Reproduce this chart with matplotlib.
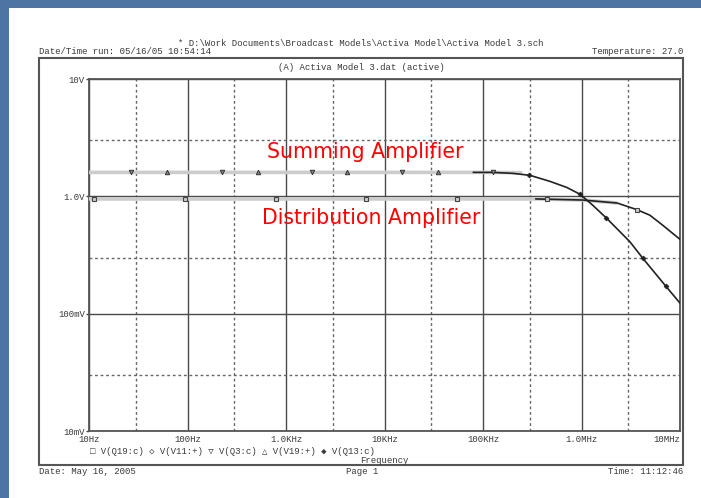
import matplotlib
matplotlib.use("Agg")
import matplotlib.pyplot as plt
from matplotlib.patches import Rectangle
from matplotlib.ticker import LogLocator, NullFormatter, FixedLocator
import numpy as np

# ---------------- data ----------------
# Summing amplifier: flat (grey) portion
sum_flat_f = [10, 100, 1e3, 1e4, 1e5, 2.5e5]
sum_flat_v = [1.60, 1.60, 1.60, 1.60, 1.60, 1.59]
# Summing amplifier: roll-off (black trace)
sum_roll_f = [80e3, 125e3, 200e3, 300e3, 480e3, 710e3, 0.97e6, 1.3e6, 1.8e6, 3.1e6, 4.2e6, 7.2e6, 10e6]
sum_roll_v = [1.60, 1.60, 1.57, 1.51, 1.34, 1.19, 1.04, 0.84, 0.65, 0.41, 0.296, 0.171, 0.123]
# Distribution amplifier: flat (grey) portion
dist_flat_f = [10, 100, 1e3, 1e4, 1e5, 3.45e5, 1.03e6, 2.3e6]
dist_flat_v = [0.95, 0.95, 0.95, 0.95, 0.95, 0.95, 0.93, 0.877]
# Distribution amplifier: roll-off (black trace)
dist_roll_f = [345e3, 1.03e6, 2.3e6, 3.65e6, 4.95e6, 6.7e6, 10e6]
dist_roll_v = [0.95, 0.93, 0.877, 0.77, 0.69, 0.566, 0.43]

# marker points
q19_mk_f = [11.2, 94, 790, 6.5e3, 54e3, 447e3, 3.65e6]
q19_mk_v = [0.95, 0.95, 0.95, 0.95, 0.95, 0.95, 0.77]
q3_mk_f = [26.7, 224, 1.84e3, 15e3, 126e3]
q3_mk_v = [1.60, 1.60, 1.60, 1.60, 1.60]
v19_mk_f = [62, 520, 4.16e3, 34.9e3]
v19_mk_v = [1.60, 1.60, 1.60, 1.60]
q13_mk_f = [293e3, 0.97e6, 1.77e6, 4.2e6, 7.2e6]
q13_mk_v = [1.51, 1.04, 0.653, 0.296, 0.171]

series_names = ["V(Q19:c)", "V(V11:+)", "V(Q3:c)", "V(V19:+)", "V(Q13:c)"]
series_symbols = ["\u25a1", "\u25c7", "\u25bd", "\u25b3", "\u25c6"]

xtick_vals = [10, 100, 1e3, 1e4, 1e5, 1e6, 1e7]
xtick_labels = ["10Hz", "100Hz", "1.0KHz", "10KHz", "100KHz", "1.0MHz", "10MHz"]
ytick_vals = [0.01, 0.1, 1, 10]
ytick_labels = ["10mV", "100mV", "1.0V", "10V"]

# ---------------- figure ----------------
W, H = 701, 498
fig = plt.figure(figsize=(W / 100, H / 100), dpi=100, facecolor="#4e74a3")

def fx(x):
    return x / W

def fy(y):
    return 1 - y / H

mono = ["Liberation Mono", "DejaVu Sans Mono"]
fs = 6.5
tc = "#3a3a3a"

fig.patches.append(Rectangle((fx(9), 0), 1 - fx(9), fy(8), transform=fig.transFigure,
                             facecolor="white", edgecolor="none", zorder=-2))
fig.patches.append(Rectangle((fx(39), fy(465)), fx(683) - fx(39), fy(58) - fy(465),
                             transform=fig.transFigure, fill=False, edgecolor="#555555",
                             linewidth=1.5, zorder=2))

ax = fig.add_axes([fx(89), fy(431), fx(680) - fx(89), fy(79) - fy(431)])
ax.set_facecolor("white")
ax.set_xscale("log")
ax.set_yscale("log")
ax.set_xlim(10, 1e7)
ax.set_ylim(0.01, 10)

ax.xaxis.set_major_locator(FixedLocator(xtick_vals))
ax.set_xticklabels(xtick_labels, family=mono, fontsize=fs, color=tc)
ax.yaxis.set_major_locator(FixedLocator(ytick_vals))
ax.set_yticklabels(ytick_labels, family=mono, fontsize=fs, color=tc)
ax.xaxis.set_minor_locator(LogLocator(base=10, subs=[3.0], numticks=20))
ax.yaxis.set_minor_locator(LogLocator(base=10, subs=[3.0], numticks=20))
ax.xaxis.set_minor_formatter(NullFormatter())
ax.yaxis.set_minor_formatter(NullFormatter())
ax.tick_params(axis="x", which="major", length=0, pad=3)
ax.tick_params(axis="y", which="major", length=2.5, width=1, color="#444444", pad=0.5)
ax.tick_params(which="minor", length=0)
xl = ax.get_xticklabels()
xl[-1].set_ha("right")

ax.grid(True, which="major", color="#4a4a4a", linewidth=1.0)
ax.grid(True, which="minor", color="#666666", linewidth=1.0, linestyle=(0, (2, 2)))
ax.set_axisbelow(True)
for s in ax.spines.values():
    s.set_color("#555555")
    s.set_linewidth(1.3)

grey = "#cccccc"
ax.plot(sum_flat_f, sum_flat_v, color=grey, lw=2.6, solid_capstyle="butt", zorder=3)
ax.plot(dist_flat_f, dist_flat_v, color=grey, lw=2.6, solid_capstyle="butt", zorder=3)
ax.plot(sum_roll_f, sum_roll_v, color="#222222", lw=1.2, zorder=4)
ax.plot(dist_roll_f, dist_roll_v, color="#222222", lw=1.2, zorder=4)

ax.plot(q19_mk_f, q19_mk_v, ls="none", marker="s", ms=3.0, mfc="#cccccc", mec="#444444", mew=0.8, zorder=5)
ax.plot(q3_mk_f, q3_mk_v, ls="none", marker="v", ms=3.2, mfc="#888888", mec="#333333", mew=0.7, zorder=5)
ax.plot(v19_mk_f, v19_mk_v, ls="none", marker="^", ms=3.2, mfc="#888888", mec="#333333", mew=0.7, zorder=5)
ax.plot(q13_mk_f, q13_mk_v, ls="none", marker="D", ms=2.5, mfc="#222222", mec="#222222", mew=0.5, zorder=5)

# ---------------- texts ----------------
fig.text(fx(360.5), fy(43), "* D:\\Work Documents\\Broadcast Models\\Activa Model\\Activa Model 3.sch",
         ha="center", va="center", family=mono, fontsize=fs, color=tc)
fig.text(fx(39), fy(52), "Date/Time run: 05/16/05 10:54:14", ha="left", va="center",
         family=mono, fontsize=fs, color=tc)
fig.text(fx(683), fy(52), "Temperature: 27.0", ha="right", va="center",
         family=mono, fontsize=fs, color=tc)
fig.text(fx(361), fy(67), "(A) Activa Model 3.dat (active)", ha="center", va="center",
         family=mono, fontsize=fs, color=tc)

legend_str = " ".join(f"{sym} {name}" for sym, name in zip(series_symbols, series_names))
fig.text(fx(90), fy(451), legend_str, ha="left", va="center", family=mono, fontsize=fs, color=tc)
fig.text(fx(384.5), fy(460), "Frequency", ha="center", va="center", family=mono, fontsize=fs, color=tc)

fig.text(fx(39), fy(471), "Date: May 16, 2005", ha="left", va="center", family=mono, fontsize=fs, color=tc)
fig.text(fx(362), fy(471), "Page 1", ha="center", va="center", family=mono, fontsize=fs, color=tc)
fig.text(fx(683), fy(471), "Time: 11:12:46", ha="right", va="center", family=mono, fontsize=fs, color=tc)

fig.text(fx(267), fy(152), "Summing Amplifier", ha="left", va="center",
         family="DejaVu Sans", fontsize=14.8, color="#ff0000", zorder=6)
fig.text(fx(262), fy(218), "Distribution Amplifier", ha="left", va="center",
         family="DejaVu Sans", fontsize=14.8, color="#ff0000", zorder=6)

fig.savefig("out.png", dpi=100, facecolor=fig.get_facecolor())
